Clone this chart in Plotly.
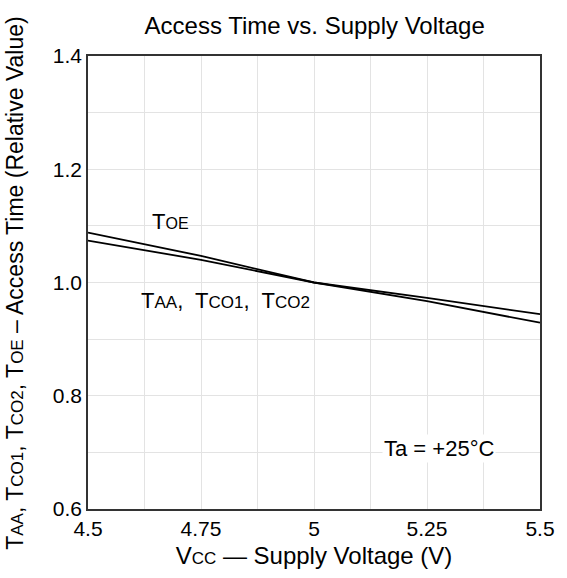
import plotly.graph_objects as go

vcc = [4.5, 4.75, 5.0, 5.25, 5.5]
t_oe = [1.088, 1.047, 1.0, 0.967, 0.929]
t_aa = [1.074, 1.040, 1.0, 0.973, 0.944]

x_ticks = [4.5, 4.75, 5.0, 5.25, 5.5]
x_labels = ["4.5", "4.75", "5", "5.25", "5.5"]
y_ticks = [0.6, 0.8, 1.0, 1.2, 1.4]
y_labels = ["0.6", "0.8", "1.0", "1.2", "1.4"]

FONT = "Liberation Sans, Arial, sans-serif"

def sc(t, size=16):
    return f'<span style="font-size:{size}px">{t}</span>'

fig = go.Figure()
fig.add_trace(go.Scatter(x=vcc, y=t_oe, mode="lines", line=dict(color="black", width=1.8),
                         name="TOE", showlegend=False))
fig.add_trace(go.Scatter(x=vcc, y=t_aa, mode="lines", line=dict(color="black", width=1.8),
                         name="TAA", showlegend=False))

fig.add_annotation(x=4.637, y=1.107, xanchor="left", yanchor="middle", showarrow=False,
                   text="T" + sc("OE", 16), font=dict(size=22, color="black", family=FONT))
fig.add_annotation(x=4.612, y=0.969, xanchor="left", yanchor="middle", showarrow=False,
                   text="T" + sc("AA", 17) + ",  T" + sc("CO1", 17) + ",  T" + sc("CO2", 17),
                   font=dict(size=22, color="black", family=FONT))
fig.add_annotation(x=5.15, y=0.706, xanchor="left", yanchor="middle", showarrow=False,
                   text="Ta = +25°C", bgcolor="white",
                   font=dict(size=22, color="black", family=FONT))

# y-axis title placed as a rotated annotation
fig.add_annotation(xref="paper", yref="paper", x=-0.163, y=0.5, xanchor="center", yanchor="middle",
                   textangle=-90, showarrow=False,
                   text="T" + sc("AA", 17) + ", T" + sc("CO1", 17) + ", T" + sc("CO2", 17) + ", T" + sc("OE", 17)
                   + " – Access Time (Relative Value)",
                   font=dict(size=23, color="black", family=FONT))

fig.update_layout(
    width=567, height=578,
    margin=dict(l=88, r=25, t=56, b=69),
    paper_bgcolor="white", plot_bgcolor="white",
    font=dict(family=FONT, size=21, color="black"),
    title=dict(text="Access Time vs. Supply Voltage", x=0.555, xanchor="center",
               y=0.955, yanchor="middle", font=dict(size=24, family=FONT, color="black")),
)
fig.update_xaxes(
    range=[4.5, 5.5], tickvals=x_ticks, ticktext=x_labels,
    showgrid=True, gridcolor="#e3e3e3", gridwidth=1,
    minor=dict(dtick=0.125, tick0=4.5, showgrid=True, gridcolor="#e3e3e3", gridwidth=1),
    showline=True, linecolor="#333", linewidth=1.5, mirror=True,
    ticks="", zeroline=False, tickfont=dict(size=21),
    title=dict(text="V" + sc("CC", 17) + " — Supply Voltage (V)", font=dict(size=24), standoff=8),
)
fig.update_yaxes(
    range=[0.6, 1.4], tickvals=y_ticks, ticktext=y_labels,
    showgrid=True, gridcolor="#e3e3e3", gridwidth=1,
    minor=dict(dtick=0.1, tick0=0.6, showgrid=True, gridcolor="#e3e3e3", gridwidth=1),
    showline=True, linecolor="#333", linewidth=1.5, mirror=True,
    ticks="", zeroline=False, tickfont=dict(size=21),
)

fig.write_html("out.html")
